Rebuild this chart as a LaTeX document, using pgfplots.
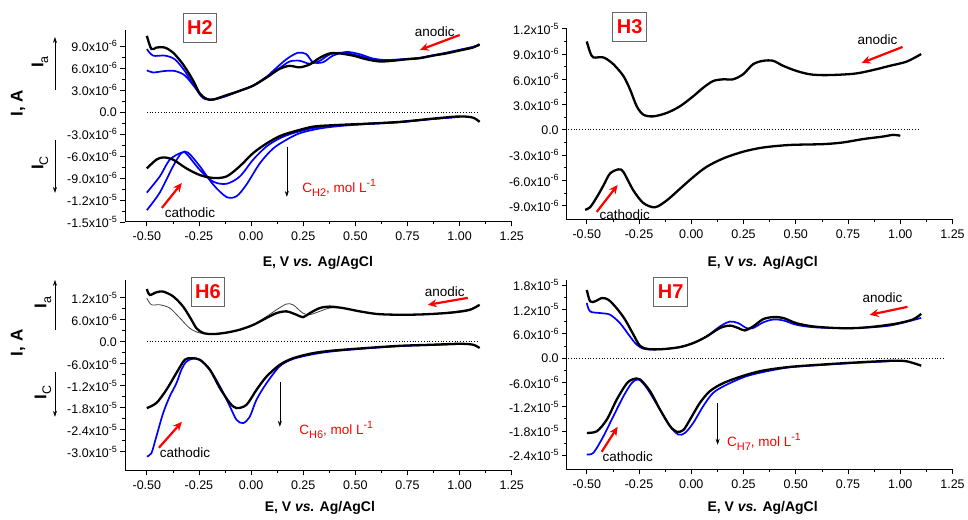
\documentclass[border=0pt]{standalone}
\usepackage{pgfplots}
\pgfplotsset{compat=1.18}
\usepackage{fontspec}
\setmainfont{Liberation Sans}
\usetikzlibrary{arrows.meta}
\newcommand{\sups}[2][9]{\raisebox{0.42em}{\fontsize{#1}{#1}\selectfont #2}}
\newcommand{\subs}[2][10]{\raisebox{-0.28em}{\fontsize{#1}{#1}\selectfont #2}}
\newcommand{\ex}[2]{#1x10\sups{#2}}
\pgfplotsset{
  cv/.style={scale only axis, axis x line*=bottom, axis y line*=left, xmax=1.25,
    xtick={-0.5,-0.25,0,0.25,0.5,0.75,1,1.25}, minor x tick num=1, minor y tick num=1,
    tick align=outside, major tick length=4.5pt, minor tick length=2.5pt,
    every tick/.style={black, line width=0.7pt},
    axis line style={line width=0.8pt},
    tick label style={font=\fontsize{12.5}{14}\selectfont},
    xticklabel style={/pgf/number format/fixed, /pgf/number format/fixed zerofill,
      /pgf/number format/precision=2, /pgf/number format/assume math mode=true, yshift=-2pt},
    clip=false},
  blk/.style={black, line width=2.3pt, smooth, tension=0.5, no markers},
  blu/.style={blue, line width=1.7pt, smooth, tension=0.5, no markers},
  thn/.style={black!75, line width=0.8pt, smooth, tension=0.5, no markers},
  zero/.style={black, dotted, line width=0.8pt, no markers},
}
\tikzset{
  redarr/.style={red, line width=2.2pt, -{Stealth[length=9pt,width=8pt]}},
  carr/.style={black, line width=0.6pt, -{Stealth[length=6pt,width=4pt]}},
  ann/.style={font=\fontsize{13.5}{15}\selectfont},
  hbox/.style={draw=black!60, line width=0.8pt, fill=white, text=red, font=\fontsize{20}{22}\bfseries, minimum width=34pt, minimum height=29pt, inner sep=1pt},
  xl/.style={font=\fontsize{14}{16}\bfseries},
  yl/.style={font=\fontsize{17}{19}\bfseries, rotate=90},
}
\newcommand{\conc}[1]{C\subs[11]{#1}, mol L\sups[10.5]{-1}}
\newcommand{\cur}[1]{I\subs[12.5]{\mdseries #1}}
\begin{document}
\begin{tikzpicture}[x=1pt,y=1pt]
\path (0,0) rectangle (968,520);

% ---- H2 ----
\begin{axis}[cv, at={(125pt,298pt)}, anchor=south west, width=387pt, height=192pt,
  xmin=-0.605, ymin=-15, ymax=11.2,
  ytick={-15,-12,-9,-6,-3,0,3,6,9},
  yticklabels={{\ex{-1.5}{-5}},{\ex{-1.2}{-5}},{\ex{-9.0}{-6}},{\ex{-6.0}{-6}},{\ex{-3.0}{-6}},0.0,{\ex{3.0}{-6}},{\ex{6.0}{-6}},{\ex{9.0}{-6}}}]
\addplot[zero] coordinates {(-0.5,0) (1.09,0)};
\addplot[blu] coordinates {(-0.5,8.6) (-0.47,7.7) (-0.414,7.7) (-0.366,7.2) (-0.318,5.6) (-0.27,3.4) (-0.23,1.9) (-0.182,1.7) (-0.118,2.2) (-0.054,2.9) (0.01,3.6) (0.074,4.8) (0.105,5.6) (0.169,7.2) (0.225,8.1) (0.265,7.9) (0.297,6.8) (0.345,6.8) (0.393,7.7) (0.457,8.2) (0.52,7.9) (0.585,7.3) (0.65,7.1) (0.744,7.25) (0.808,7.4) (0.872,7.75) (0.936,8.1) (1.0,8.5) (1.064,8.9) (1.096,9.2)};
\addplot[blu] coordinates {(-0.5,5.7) (-0.47,5.4) (-0.414,5.6) (-0.366,5.6) (-0.318,5.0) (-0.27,3.4) (-0.222,1.9) (-0.182,1.7) (-0.118,2.2) (-0.054,2.9) (0.01,3.6) (0.074,4.8) (0.137,6.0) (0.185,6.9) (0.233,7.0) (0.28,6.6) (0.33,7.0) (0.38,7.9) (0.44,8.1) (0.5,7.8) (0.57,7.3) (0.65,7.05) (0.744,7.2) (0.808,7.35) (0.872,7.7) (0.936,8.05) (1.0,8.45) (1.064,8.85) (1.096,9.15)};
\addplot[blk] coordinates {(-0.5,10.4) (-0.478,8.6) (-0.454,8.8) (-0.414,8.8) (-0.374,8.1) (-0.326,6.5) (-0.278,4.3) (-0.246,2.5) (-0.214,1.8) (-0.182,1.7) (-0.118,2.3) (-0.054,2.9) (0.01,3.6) (0.074,4.7) (0.137,5.9) (0.185,6.3) (0.233,6.1) (0.281,6.5) (0.329,7.4) (0.377,8.0) (0.425,8.0) (0.489,7.7) (0.553,7.2) (0.617,6.9) (0.68,7.0) (0.744,7.2) (0.808,7.35) (0.872,7.7) (0.936,8.0) (1.0,8.4) (1.064,8.8) (1.096,9.25)};
\addplot[blu] coordinates {(-0.5,-11.0) (-0.438,-8.8) (-0.39,-6.5) (-0.334,-5.55) (-0.31,-5.7) (-0.246,-7.9) (-0.182,-9.5) (-0.118,-9.8) (-0.054,-8.8) (0.01,-6.5) (0.074,-4.7) (0.137,-3.6) (0.2,-2.9) (0.297,-2.2) (0.393,-1.85) (0.553,-1.6) (0.713,-1.35) (0.872,-0.95) (1.0,-0.65)};
\addplot[blu] coordinates {(-0.5,-13.4) (-0.438,-11.0) (-0.374,-7.4) (-0.334,-5.6) (-0.302,-5.55) (-0.246,-7.4) (-0.182,-9.9) (-0.118,-11.6) (-0.07,-11.5) (-0.022,-9.9) (0.042,-7.0) (0.105,-5.0) (0.169,-3.8) (0.233,-2.9) (0.329,-2.25) (0.43,-1.9) (0.553,-1.65) (0.713,-1.4) (0.872,-0.95) (1.0,-0.65)};
\addplot[blk] coordinates {(-0.5,-7.7) (-0.454,-6.5) (-0.42,-6.2) (-0.374,-6.5) (-0.31,-7.7) (-0.246,-8.6) (-0.182,-9.0) (-0.118,-8.8) (-0.054,-7.4) (0.01,-5.6) (0.074,-4.3) (0.137,-3.3) (0.2,-2.7) (0.297,-2.0) (0.393,-1.8) (0.553,-1.6) (0.713,-1.35) (0.872,-0.9) (1.0,-0.6) (1.064,-0.77) (1.096,-1.35)};
\end{axis}

% ---- H3 ----
\begin{axis}[cv, at={(567pt,300pt)}, anchor=south west, width=386pt, height=192pt,
  xmin=-0.596, ymin=-10.7, ymax=12.1,
  ytick={-9,-6,-3,0,3,6,9,12},
  yticklabels={{\ex{-9.0}{-6}},{\ex{-6.0}{-6}},{\ex{-3.0}{-6}},0.0,{\ex{3.0}{-6}},{\ex{6.0}{-6}},{\ex{9.0}{-6}},{\ex{1.2}{-5}}}]
\addplot[zero] coordinates {(-0.59,0) (1.09,0)};
\addplot[blk] coordinates {(-0.5,10.5) (-0.484,9.2) (-0.468,8.6) (-0.42,8.6) (-0.373,7.8) (-0.325,6.4) (-0.293,4.8) (-0.261,2.8) (-0.229,1.8) (-0.182,1.6) (-0.118,2.0) (-0.054,2.8) (0.01,4.0) (0.057,5.0) (0.105,5.8) (0.153,6.0) (0.2,6.0) (0.248,6.6) (0.296,7.8) (0.344,8.2) (0.392,8.2) (0.44,7.6) (0.503,7.0) (0.567,6.6) (0.631,6.5) (0.71,6.55) (0.79,6.7) (0.869,7.1) (0.949,7.6) (1.03,8.1) (1.1,9.0)};
\addplot[blk] coordinates {(-0.508,-9.5) (-0.484,-9.2) (-0.452,-8.0) (-0.42,-6.6) (-0.389,-5.2) (-0.349,-4.7) (-0.325,-5.0) (-0.277,-7.2) (-0.229,-8.7) (-0.174,-9.2) (-0.118,-8.4) (-0.054,-7.0) (0.01,-5.6) (0.073,-4.4) (0.153,-3.4) (0.248,-2.6) (0.344,-2.1) (0.471,-1.8) (0.631,-1.7) (0.726,-1.5) (0.822,-1.1) (0.917,-0.8) (0.965,-0.6) (1.0,-0.7)};
\end{axis}

% ---- H6 ----
\begin{axis}[cv, at={(125pt,49pt)}, anchor=south west, width=387pt, height=191pt,
  xmin=-0.605, ymin=-35.2, ymax=16.9,
  ytick={-30,-24,-18,-12,-6,0,6,12},
  yticklabels={{\ex{-3.0}{-5}},{\ex{-2.4}{-5}},{\ex{-1.8}{-5}},{\ex{-1.2}{-5}},{\ex{-6.0}{-6}},0.0,{\ex{6.0}{-6}},{\ex{1.2}{-5}}}]
\addplot[zero] coordinates {(-0.5,0) (1.09,0)};
\addplot[thn] coordinates {(-0.5,11.9) (-0.478,10.1) (-0.438,10.1) (-0.39,9.2) (-0.342,6.5) (-0.294,3.7) (-0.246,2.4) (-0.182,2.1) (-0.118,2.5) (-0.054,3.3) (0.01,4.6) (0.074,6.9) (0.121,8.7) (0.169,10.3) (0.201,10.1) (0.249,7.8) (0.281,7.4) (0.329,8.3) (0.377,9.2) (0.441,9.2) (0.521,8.3) (0.601,7.6) (0.68,7.4) (0.776,7.4) (0.872,7.7) (0.968,8.2) (1.048,8.9) (1.096,10.0)};
\addplot[blk] coordinates {(-0.5,14.4) (-0.486,12.8) (-0.454,13.5) (-0.422,13.7) (-0.374,12.4) (-0.326,9.6) (-0.286,6.0) (-0.262,3.7) (-0.23,2.4) (-0.182,2.1) (-0.118,2.5) (-0.054,3.3) (0.01,4.6) (0.074,6.5) (0.121,7.8) (0.169,8.3) (0.217,7.4) (0.249,6.7) (0.281,7.8) (0.329,9.2) (0.377,9.6) (0.441,9.2) (0.521,8.3) (0.601,7.6) (0.68,7.4) (0.776,7.4) (0.872,7.6) (0.968,8.0) (1.048,8.7) (1.096,10.1)};
\addplot[blu] coordinates {(-0.5,-31.3) (-0.478,-30.4) (-0.454,-25.8) (-0.422,-19.5) (-0.39,-14.9) (-0.358,-11.3) (-0.334,-7.6) (-0.31,-5.4) (-0.278,-4.6) (-0.246,-4.9) (-0.198,-7.6) (-0.15,-12.1) (-0.102,-17.6) (-0.07,-21.3) (-0.038,-22.2) (-0.006,-20.4) (0.026,-15.8) (0.074,-11.3) (0.137,-6.7) (0.201,-4.7) (0.297,-3.4) (0.393,-2.6) (0.553,-1.8) (0.713,-1.2) (0.872,-0.85) (1.0,-0.6)};
\addplot[blk] coordinates {(-0.5,-18.1) (-0.454,-16.7) (-0.406,-13.1) (-0.358,-8.5) (-0.318,-4.9) (-0.286,-4.5) (-0.246,-4.9) (-0.198,-7.6) (-0.15,-12.6) (-0.102,-16.7) (-0.07,-18.1) (-0.022,-17.2) (0.026,-13.1) (0.074,-9.5) (0.137,-6.3) (0.201,-4.5) (0.297,-3.1) (0.393,-2.4) (0.553,-1.7) (0.713,-1.1) (0.872,-0.8) (1.0,-0.55) (1.064,-0.8) (1.096,-1.7)};
\end{axis}

% ---- H7 ----
\begin{axis}[cv, at={(567pt,50pt)}, anchor=south west, width=386pt, height=190pt,
  xmin=-0.596, ymin=-27.6, ymax=19.3,
  ytick={-24,-18,-12,-6,0,6,12,18},
  yticklabels={{\ex{-2.4}{-5}},{\ex{-1.8}{-5}},{\ex{-1.2}{-5}},{\ex{-6.0}{-6}},0.0,{\ex{6.0}{-6}},{\ex{1.2}{-5}},{\ex{1.8}{-5}}}]
\addplot[zero] coordinates {(-0.59,0) (1.21,0)};
\addplot[blu] coordinates {(-0.5,13.6) (-0.484,11.5) (-0.436,11.1) (-0.389,10.7) (-0.341,8.6) (-0.293,5.3) (-0.261,3.3) (-0.221,2.2) (-0.134,2.2) (-0.054,2.7) (0.01,3.7) (0.073,5.3) (0.137,7.8) (0.185,9.0) (0.225,8.6) (0.264,7.4) (0.296,7.4) (0.344,8.8) (0.392,9.5) (0.439,9.3) (0.503,8.2) (0.583,7.6) (0.694,7.4) (0.79,7.4) (0.949,8.0) (1.1,9.9)};
\addplot[blk] coordinates {(-0.5,16.8) (-0.484,14.0) (-0.46,14.0) (-0.428,14.8) (-0.397,14.4) (-0.357,12.3) (-0.317,9.5) (-0.277,5.8) (-0.245,3.0) (-0.205,2.2) (-0.134,2.2) (-0.054,2.7) (0.01,3.7) (0.073,5.3) (0.137,7.4) (0.185,8.0) (0.225,7.4) (0.256,6.8) (0.296,7.8) (0.344,9.6) (0.392,10.1) (0.439,9.9) (0.503,8.6) (0.583,7.8) (0.694,7.4) (0.79,7.4) (0.885,7.8) (0.981,8.5) (1.06,9.5) (1.1,10.9)};
\addplot[blu] coordinates {(-0.5,-23.8) (-0.468,-23.4) (-0.42,-19.3) (-0.373,-14.4) (-0.325,-9.5) (-0.285,-6.2) (-0.253,-5.3) (-0.213,-7.4) (-0.15,-12.7) (-0.102,-16.8) (-0.062,-18.9) (-0.03,-18.5) (0.01,-16.0) (0.057,-11.9) (0.105,-8.6) (0.169,-6.6) (0.264,-4.5) (0.36,-3.3) (0.471,-2.3) (0.631,-1.7) (0.79,-1.2) (0.949,-0.8)};
\addplot[blk] coordinates {(-0.5,-18.5) (-0.452,-18.1) (-0.404,-15.2) (-0.357,-10.3) (-0.309,-6.3) (-0.277,-5.2) (-0.245,-5.3) (-0.197,-8.2) (-0.15,-12.7) (-0.102,-16.8) (-0.07,-18.2) (-0.038,-17.8) (-0.006,-15.2) (0.041,-11.1) (0.089,-8.2) (0.153,-6.2) (0.248,-4.4) (0.344,-3.1) (0.471,-2.2) (0.631,-1.6) (0.79,-1.1) (0.949,-0.7) (1.029,-0.8) (1.1,-1.9)};
\end{axis}

% ---- annotations ----
% H2
\node[hbox] at (200,492) {H2};
\node[ann] at (435,488) {anodic};
\draw[redarr] (460,485) -- (420,470);
\node[ann] at (190,307) {cathodic};
\draw[redarr] (162,312) -- (182,337);
\draw[carr] (287,373) -- (287,323);
\node[ann, text=red, anchor=west] at (299,332) {\conc{H2}};
\node[yl] at (18,417) {I, A};
\node[yl] at (40,458) {\cur{a}};
\draw[carr] (55,430) -- (55,483);
\node[yl] at (40,357) {\cur{C}};
\draw[carr] (55,380) -- (55,327);
\node[xl] at (318,257) {E, V \textit{vs.} Ag/AgCl};
% H3
\node[hbox] at (630,493) {H3};
\node[ann] at (878,480) {anodic};
\draw[redarr] (903,473) -- (862,457);
\node[ann] at (625,305) {cathodic};
\draw[redarr] (597,308) -- (618,335);
\node[xl] at (763,257) {E, V \textit{vs.} Ag/AgCl};
% H6
\node[hbox] at (208,228) {H6};
\node[ann] at (445,228) {anodic};
\draw[redarr] (468,222) -- (428,215);
\node[ann] at (185,67) {cathodic};
\draw[redarr] (159,72) -- (182,98);
\draw[carr] (280,138) -- (280,93);
\node[ann, text=red, anchor=west] at (296,90) {\conc{H6}};
\node[yl] at (18,177) {I, A};
\node[yl] at (43,217) {\cur{a}};
\draw[carr] (55,190) -- (55,240);
\node[yl] at (43,127) {\cur{C}};
\draw[carr] (55,148) -- (55,103);
\node[xl] at (320,12) {E, V \textit{vs.} Ag/AgCl};
% H7
\node[hbox] at (671,228) {H7};
\node[ann] at (883,222) {anodic};
\draw[redarr] (908,213) -- (870,205);
\node[ann] at (628,63) {cathodic};
\draw[redarr] (602,68) -- (618,93);
\draw[carr] (718,117) -- (718,75);
\node[ann, text=red, anchor=west] at (724,78) {\conc{H7}};
\node[xl] at (763,12) {E, V \textit{vs.} Ag/AgCl};
\end{tikzpicture}
\end{document}
